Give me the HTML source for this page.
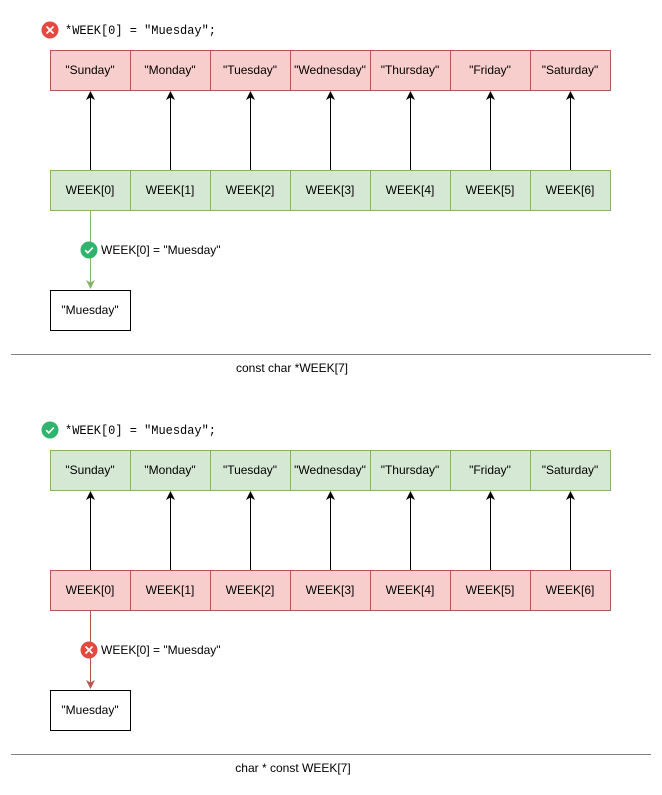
<!DOCTYPE html>
<html><head><meta charset="utf-8"><style>
html,body{margin:0;padding:0;background:#fff;width:662px;height:795px;overflow:hidden}
svg text{font-family:"Liberation Sans",Arial,sans-serif;font-size:12px;fill:#000}
.mono{font-family:"Liberation Mono","DejaVu Sans Mono",monospace;font-size:12.5px}
</style></head><body>
<svg width="662" height="795" viewBox="0 0 662 795" xmlns="http://www.w3.org/2000/svg">
<defs>
<marker id="ab" markerWidth="10" markerHeight="10" refX="5" refY="5" orient="auto" markerUnits="userSpaceOnUse"><path d="M0,0.5 L9,5 L0,9.5 L2.5,5 z" fill="#000"/></marker>
<marker id="ag" markerWidth="10" markerHeight="10" refX="5" refY="5" orient="auto" markerUnits="userSpaceOnUse"><path d="M0,0.5 L9,5 L0,9.5 L2.5,5 z" fill="#82b366"/></marker>
<marker id="ar" markerWidth="10" markerHeight="10" refX="5" refY="5" orient="auto" markerUnits="userSpaceOnUse"><path d="M0,0.5 L9,5 L0,9.5 L2.5,5 z" fill="#b85450"/></marker>
<g id="xi"><circle r="8.5" fill="#e5483f"/><path d="M-3.5,-3.5 L3.5,3.5 M3.5,-3.5 L-3.5,3.5" stroke="#fff" stroke-width="1.8"/></g>
<g id="ci"><circle r="8.5" fill="#2fb46e"/><path d="M-3.8,0.2 L-1.2,2.8 L3.8,-2.4" stroke="#fff" stroke-width="1.6" fill="none"/></g>
</defs>

<!-- Section 1 -->
<use href="#xi" x="50" y="30"/>
<text class="mono" x="65" y="34" textLength="151" lengthAdjust="spacingAndGlyphs">*WEEK[0] = "Muesday";</text>
<g stroke="#b85450" fill="#f8cecc">
<rect x="50.5" y="50.5" width="80" height="40"/><rect x="130.5" y="50.5" width="80" height="40"/><rect x="210.5" y="50.5" width="80" height="40"/><rect x="290.5" y="50.5" width="80" height="40"/><rect x="370.5" y="50.5" width="80" height="40"/><rect x="450.5" y="50.5" width="80" height="40"/><rect x="530.5" y="50.5" width="80" height="40"/>
</g>
<g text-anchor="middle">
<text x="90" y="74">"Sunday"</text><text x="170" y="74">"Monday"</text><text x="250" y="74">"Tuesday"</text><text x="330" y="74">"Wednesday"</text><text x="410" y="74">"Thursday"</text><text x="490" y="74">"Friday"</text><text x="570" y="74">"Saturday"</text>
</g>
<g stroke="#000" stroke-width="1">
<line x1="90.5" y1="170" x2="90.5" y2="95" marker-end="url(#ab)"/><line x1="170.5" y1="170" x2="170.5" y2="95" marker-end="url(#ab)"/><line x1="250.5" y1="170" x2="250.5" y2="95" marker-end="url(#ab)"/><line x1="330.5" y1="170" x2="330.5" y2="95" marker-end="url(#ab)"/><line x1="410.5" y1="170" x2="410.5" y2="95" marker-end="url(#ab)"/><line x1="490.5" y1="170" x2="490.5" y2="95" marker-end="url(#ab)"/><line x1="570.5" y1="170" x2="570.5" y2="95" marker-end="url(#ab)"/>
</g>
<g stroke="#82b366" fill="#d5e8d4">
<rect x="50.5" y="170.5" width="80" height="40"/><rect x="130.5" y="170.5" width="80" height="40"/><rect x="210.5" y="170.5" width="80" height="40"/><rect x="290.5" y="170.5" width="80" height="40"/><rect x="370.5" y="170.5" width="80" height="40"/><rect x="450.5" y="170.5" width="80" height="40"/><rect x="530.5" y="170.5" width="80" height="40"/>
</g>
<g text-anchor="middle">
<text x="90" y="194">WEEK[0]</text><text x="170" y="194">WEEK[1]</text><text x="250" y="194">WEEK[2]</text><text x="330" y="194">WEEK[3]</text><text x="410" y="194">WEEK[4]</text><text x="490" y="194">WEEK[5]</text><text x="570" y="194">WEEK[6]</text>
</g>
<line x1="90.5" y1="211" x2="90.5" y2="285" stroke="#82b366" marker-end="url(#ag)"/>
<use href="#ci" x="89" y="250"/>
<text x="101" y="254">WEEK[0] = "Muesday"</text>
<rect x="50.5" y="290.5" width="80" height="40" fill="#fff" stroke="#000"/>
<text x="90" y="314" text-anchor="middle">"Muesday"</text>
<line x1="11" y1="354.5" x2="651" y2="354.5" stroke="#808080"/>
<text x="292" y="372" text-anchor="middle">const char *WEEK[7]</text>

<!-- Section 2 -->
<use href="#ci" x="50" y="430"/>
<text class="mono" x="65" y="434" textLength="151" lengthAdjust="spacingAndGlyphs">*WEEK[0] = "Muesday";</text>
<g stroke="#82b366" fill="#d5e8d4">
<rect x="50.5" y="450.5" width="80" height="40"/><rect x="130.5" y="450.5" width="80" height="40"/><rect x="210.5" y="450.5" width="80" height="40"/><rect x="290.5" y="450.5" width="80" height="40"/><rect x="370.5" y="450.5" width="80" height="40"/><rect x="450.5" y="450.5" width="80" height="40"/><rect x="530.5" y="450.5" width="80" height="40"/>
</g>
<g text-anchor="middle">
<text x="90" y="474">"Sunday"</text><text x="170" y="474">"Monday"</text><text x="250" y="474">"Tuesday"</text><text x="330" y="474">"Wednesday"</text><text x="410" y="474">"Thursday"</text><text x="490" y="474">"Friday"</text><text x="570" y="474">"Saturday"</text>
</g>
<g stroke="#000" stroke-width="1">
<line x1="90.5" y1="570" x2="90.5" y2="495" marker-end="url(#ab)"/><line x1="170.5" y1="570" x2="170.5" y2="495" marker-end="url(#ab)"/><line x1="250.5" y1="570" x2="250.5" y2="495" marker-end="url(#ab)"/><line x1="330.5" y1="570" x2="330.5" y2="495" marker-end="url(#ab)"/><line x1="410.5" y1="570" x2="410.5" y2="495" marker-end="url(#ab)"/><line x1="490.5" y1="570" x2="490.5" y2="495" marker-end="url(#ab)"/><line x1="570.5" y1="570" x2="570.5" y2="495" marker-end="url(#ab)"/>
</g>
<g stroke="#b85450" fill="#f8cecc">
<rect x="50.5" y="570.5" width="80" height="40"/><rect x="130.5" y="570.5" width="80" height="40"/><rect x="210.5" y="570.5" width="80" height="40"/><rect x="290.5" y="570.5" width="80" height="40"/><rect x="370.5" y="570.5" width="80" height="40"/><rect x="450.5" y="570.5" width="80" height="40"/><rect x="530.5" y="570.5" width="80" height="40"/>
</g>
<g text-anchor="middle">
<text x="90" y="594">WEEK[0]</text><text x="170" y="594">WEEK[1]</text><text x="250" y="594">WEEK[2]</text><text x="330" y="594">WEEK[3]</text><text x="410" y="594">WEEK[4]</text><text x="490" y="594">WEEK[5]</text><text x="570" y="594">WEEK[6]</text>
</g>
<line x1="90.5" y1="611" x2="90.5" y2="685" stroke="#b85450" marker-end="url(#ar)"/>
<use href="#xi" x="89" y="650"/>
<text x="101" y="654">WEEK[0] = "Muesday"</text>
<rect x="50.5" y="690.5" width="80" height="40" fill="#fff" stroke="#000"/>
<text x="90" y="714" text-anchor="middle">"Muesday"</text>
<line x1="11" y1="754.5" x2="651" y2="754.5" stroke="#808080"/>
<text x="293" y="772" text-anchor="middle">char * const WEEK[7]</text>
</svg>
</body></html>
